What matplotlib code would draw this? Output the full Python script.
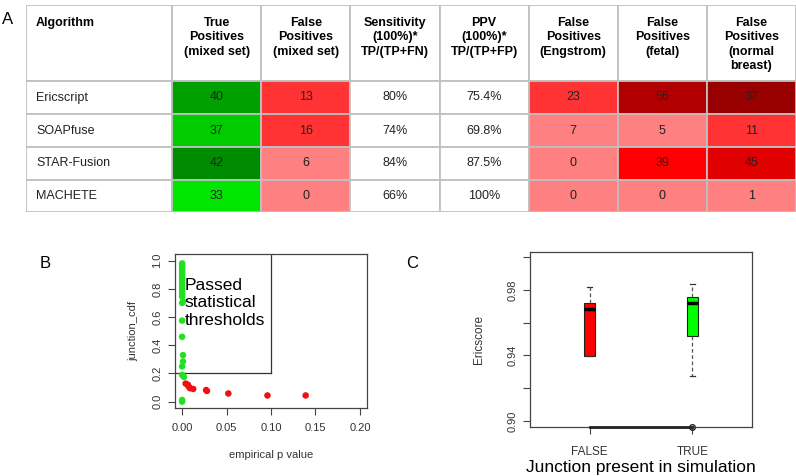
import matplotlib
matplotlib.use("Agg")
import matplotlib.pyplot as plt
from matplotlib.patches import Rectangle
import numpy as np

plt.rcParams["font.family"] = ["Liberation Sans", "DejaVu Sans"]

# ---- Panel A: table data ----
headers = [
    "Algorithm",
    "True\nPositives\n(mixed set)",
    "False\nPositives\n(mixed set)",
    "Sensitivity\n(100%)*\nTP/(TP+FN)",
    "PPV\n(100%)*\nTP/(TP+FP)",
    "False\nPositives\n(Engstrom)",
    "False\nPositives\n(fetal)",
    "False\nPositives\n(normal\nbreast)",
]
algorithms = ["Ericscript", "SOAPfuse", "STAR-Fusion", "MACHETE"]
true_pos = [40, 37, 42, 33]
false_pos_mixed = [13, 16, 6, 0]
sensitivity = ["80%", "74%", "84%", "66%"]
ppv = ["75.4%", "69.8%", "87.5%", "100%"]
fp_engstrom = [23, 7, 0, 0]
fp_fetal = [56, 5, 39, 0]
fp_breast = [37, 11, 45, 1]

# cell shading as in the original figure
tp_colors = ["#00a000", "#00cc00", "#008c00", "#00e600"]
fp_mixed_colors = ["#ff3333", "#ff3333", "#ff8080", "#ff8080"]
engstrom_colors = ["#ff3333", "#ff8080", "#ff8080", "#ff8080"]
fetal_colors = ["#b20000", "#ff8080", "#ff0000", "#ff8080"]
breast_colors = ["#990000", "#ff3333", "#e00000", "#ff8080"]

# ---- Panel B: scatter data ----
passed_p = [0.0, 0.0, 0.0, 0.0, 0.0, 0.0, 0.0, 0.0, 0.0, 0.0, 0.0, 0.0, 0.0,
            0.0, 0.0, 0.001, 0.0, 0.0, 0.0, 0.001, 0.001, 0.0, 0.002, 0.0, 0.0]
passed_cdf = [0.98, 0.965, 0.95, 0.935, 0.92, 0.905, 0.89, 0.875, 0.86, 0.84,
              0.82, 0.80, 0.78, 0.76, 0.745, 0.71, 0.70, 0.575, 0.46, 0.33,
              0.285, 0.25, 0.175, 0.19, 0.012]
passed_p2 = [0.0]
passed_cdf2 = [0.0]
failed_p = [0.004, 0.0065, 0.0075, 0.009, 0.0125, 0.027, 0.028, 0.052, 0.096, 0.139]
failed_cdf = [0.128, 0.12, 0.106, 0.095, 0.09, 0.082, 0.076, 0.058, 0.044, 0.044]
p_threshold = 0.1
cdf_threshold = 0.2

# ---- Panel C: boxplot stats ----
box_labels = ["FALSE", "TRUE"]
box_low_whisker = [0.9399, 0.9275]
box_q1 = [0.9399, 0.9521]
box_median = [0.9684, 0.9719]
box_q3 = [0.9719, 0.9755]
box_high_whisker = [0.9820, 0.9835]
box_outliers = [[], [0.8966]]
box_colors = ["#ff0000", "#00ff00"]

fig = plt.figure(figsize=(7.96, 4.76), dpi=100)
W, H = 796, 476


def fig_axes(left, top, right, bottom):
    return fig.add_axes([left / W, 1 - bottom / H, (right - left) / W, (bottom - top) / H])


# ---------------- Table ----------------
ax_t = fig_axes(26, 5, 796, 212)
col_w = [146] + [89] * 7
row_h = [76, 33, 33, 33, 32]
x_edges = np.concatenate([[0], np.cumsum(col_w)])
y_edges = np.concatenate([[0], np.cumsum(row_h)])
ax_t.set_xlim(0, x_edges[-1])
ax_t.set_ylim(y_edges[-1], 0)
ax_t.axis("off")

columns = [algorithms, true_pos, false_pos_mixed, sensitivity, ppv,
           fp_engstrom, fp_fetal, fp_breast]
col_colors = [None, tp_colors, fp_mixed_colors, None, None,
              engstrom_colors, fetal_colors, breast_colors]

grid_kw = dict(edgecolor="#c0c0c0", linewidth=1.3)
for j, head in enumerate(headers):
    x0, x1 = x_edges[j], x_edges[j + 1]
    ax_t.add_patch(Rectangle((x0, 0), x1 - x0, row_h[0], facecolor="white", **grid_kw))
    if j == 0:
        ax_t.text(x0 + 10, 12, head, ha="left", va="top", fontsize=9,
                  fontweight="bold", linespacing=1.25)
    else:
        ax_t.text((x0 + x1) / 2, 12, head, ha="center", va="top", fontsize=9,
                  fontweight="bold", linespacing=1.25)
    for i in range(len(algorithms)):
        y0, y1 = y_edges[i + 1], y_edges[i + 2]
        fc = col_colors[j][i] if col_colors[j] is not None else "white"
        ax_t.add_patch(Rectangle((x0, y0), x1 - x0, y1 - y0, facecolor=fc, **grid_kw))
        val = str(columns[j][i])
        if j == 0:
            ax_t.text(x0 + 10, (y0 + y1) / 2, val, ha="left", va="center", fontsize=9,
                      color="#222222")
        else:
            ax_t.text((x0 + x1) / 2, (y0 + y1) / 2, val, ha="center", va="center",
                      fontsize=9, color="#222222")

fig.text(8 / W, 1 - 20 / H, "A", fontsize=12, ha="center", va="center")
fig.text(45 / W, 1 - 264 / H, "B", fontsize=12, ha="center", va="center")
fig.text(412 / W, 1 - 264 / H, "C", fontsize=12, ha="center", va="center")

axis_color = "#444444"
tick_kw = dict(direction="out", length=5, width=0.8, color=axis_color,
               labelsize=8, labelcolor="#333333")

# ---------------- Panel B ----------------
ax_b = fig_axes(175, 254, 367, 408)
ax_b.scatter(passed_p + passed_p2, passed_cdf + passed_cdf2, s=22, color="#22e022",
             edgecolors="none", zorder=3)
ax_b.scatter(failed_p, failed_cdf, s=22, color="#ee1111", edgecolors="none", zorder=3)
ax_b.plot([-0.05, p_threshold], [cdf_threshold, cdf_threshold], color="#333333", lw=0.9)
ax_b.plot([p_threshold, p_threshold], [cdf_threshold, 2], color="#333333", lw=0.9)
ax_b.text(0.003, 0.70, "Passed\nstatistical\nthresholds", fontsize=12.5, va="center",
          ha="left", linespacing=1.2)
ax_b.set_xlim(-0.008, 0.208)
ax_b.set_ylim(-0.045, 1.047)
ax_b.set_xticks([0.0, 0.05, 0.10, 0.15, 0.20])
ax_b.set_xticklabels(["0.00", "0.05", "0.10", "0.15", "0.20"])
ax_b.set_yticks([0.0, 0.2, 0.4, 0.6, 0.8, 1.0])
ax_b.set_yticklabels(["0.0", "0.2", "0.4", "0.6", "0.8", "1.0"], rotation=90, va="center")
ax_b.tick_params(**tick_kw)
ax_b.tick_params(axis="x", pad=6)
ax_b.tick_params(axis="y", pad=4)
ax_b.set_xlabel("empirical p value", fontsize=8, color="#333333", labelpad=12)
ax_b.set_ylabel("junction_cdf", fontsize=8, color="#333333", labelpad=10)
for sp in ax_b.spines.values():
    sp.set_color(axis_color)
    sp.set_linewidth(0.9)

# ---------------- Panel C ----------------
ax_c = fig_axes(530, 252, 752, 427)
stats = []
for k in range(len(box_labels)):
    stats.append(dict(med=box_median[k], q1=box_q1[k], q3=box_q3[k],
                      whislo=box_low_whisker[k], whishi=box_high_whisker[k],
                      fliers=box_outliers[k], label=box_labels[k]))
bp = ax_c.bxp(stats, positions=[1, 2], widths=0.1, patch_artist=True,
              boxprops=dict(linewidth=0.8, edgecolor="#222222"),
              medianprops=dict(color="black", linewidth=2.5),
              whiskerprops=dict(color="#555555", linestyle=(0, (3, 2)), linewidth=0.9),
              capprops=dict(color="#333333", linewidth=0.9),
              capwidths=0.05,
              flierprops=dict(marker="o", markersize=4, markerfacecolor="none",
                              markeredgecolor="#222222"))
for patch, c in zip(bp["boxes"], box_colors):
    patch.set_facecolor(c)
for fl in bp["fliers"]:
    fl.set_clip_on(False)
ax_c.set_xlim(0.42, 2.58)
ax_c.set_ylim(0.8963, 1.0032)
ax_c.set_yticks([0.90, 0.92, 0.94, 0.96, 0.98, 1.00])
ax_c.set_yticklabels(["0.90", "", "0.94", "", "0.98", ""], rotation=90, va="center")
ax_c.set_xticks([1, 2])
ax_c.set_xticklabels(box_labels)
ax_c.tick_params(**tick_kw)
ax_c.tick_params(axis="x", labelsize=8.5, pad=9)
ax_c.tick_params(axis="y", pad=4)
# axis line drawn by R along the bottom between first and last tick
ax_c.plot([1, 2], [0.8963, 0.8963], color="#222222", lw=2.0, clip_on=False, zorder=4)
ax_c.set_ylabel("Ericscore", fontsize=8.5, color="#333333", labelpad=16)
ax_c.set_xlabel("Junction present in simulation", fontsize=12.5, labelpad=1)
for sp in ax_c.spines.values():
    sp.set_color(axis_color)
    sp.set_linewidth(0.9)

fig.savefig("out.png", dpi=100)
